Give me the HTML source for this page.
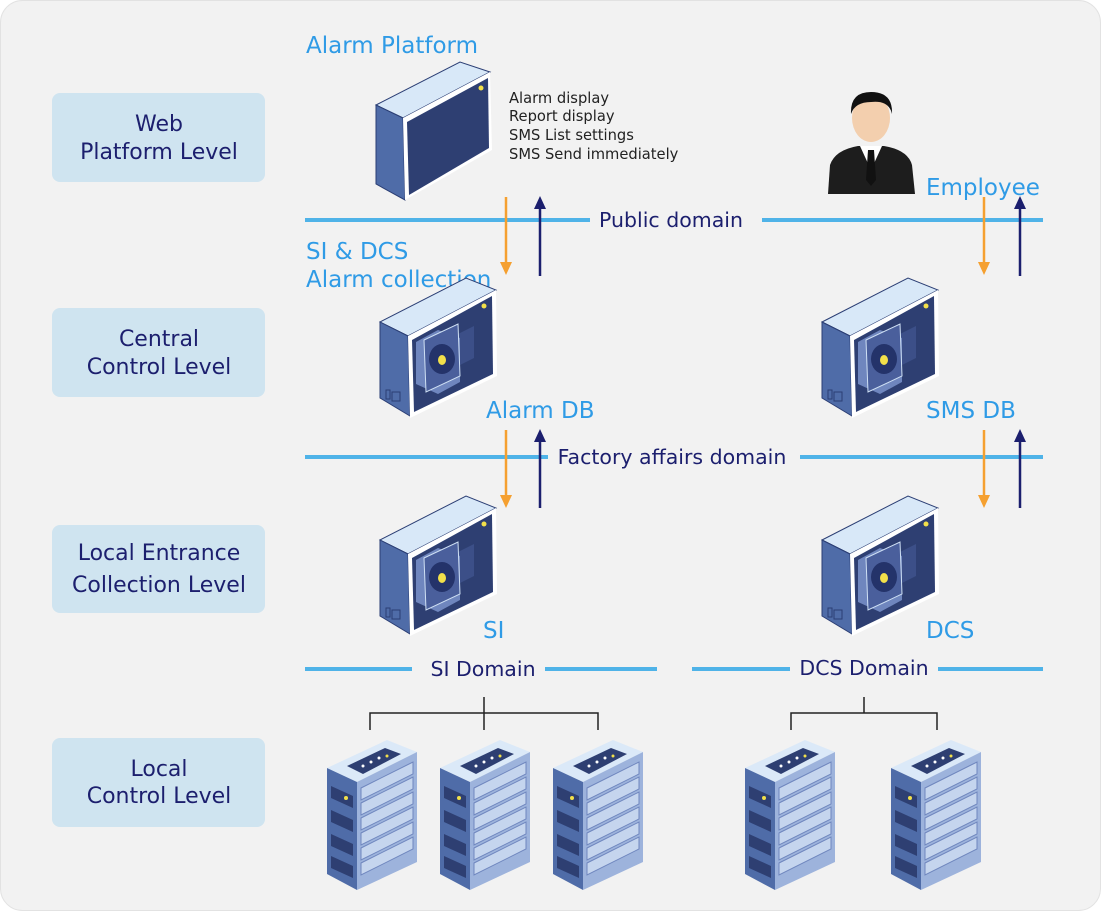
<!DOCTYPE html>
<html><head><meta charset="utf-8"><style>
html,body{margin:0;padding:0;background:#fff;}
svg{display:block;font-family:"DejaVu Sans","Liberation Sans",sans-serif;}
</style></head><body>
<svg width="1101" height="911" viewBox="0 0 1101 911" xmlns="http://www.w3.org/2000/svg">
<defs>
<symbol id="cam" viewBox="0 0 120 146" width="120" height="146">
  <polygon points="2,50 88,6 118,18 30,64" fill="#d8e8f8" stroke="#2b3e74" stroke-width="1"/>
  <polygon points="2,50 30,64 32,144 2,126" fill="#4f6ca8" stroke="#2b3e74" stroke-width="1"/>
  <polygon points="30,64 118,18 119,104 32,146" fill="#ffffff"/>
  <polygon points="34,68 114,24 115,102 36,140" fill="#2e3f72"/>
  <circle cx="106" cy="34" r="2.5" fill="#f2e04a"/>
  <polygon points="76,64 96,54 96,86 76,96" fill="#3c4f88"/>
  <polygon points="38,70 60,58 82,66 82,110 60,122 38,112" fill="#6f86be"/>
  <polygon points="46,68 80,52 82,104 48,120" fill="#4a5f9c" stroke="#cfe0f4" stroke-width="1"/>
  <ellipse cx="64" cy="87" rx="13" ry="15" fill="#24336a"/>
  <ellipse cx="64" cy="88" rx="4" ry="5" fill="#f2e04a"/>
  <rect x="8" y="118" width="4" height="9" fill="none" stroke="#2b3e74"/>
  <rect x="14" y="120" width="8" height="9" fill="none" stroke="#2b3e74"/>
</symbol>
<symbol id="rack" viewBox="0 0 90 152" width="90" height="152">
  <polygon points="0,30 60,2 90,14 30,44" fill="#dbe9f8"/>
  <polygon points="20,28 58,10 74,16 36,36" fill="#2e3f72"/>
  <circle cx="36" cy="28" r="1.5" fill="#fff"/><circle cx="44" cy="24" r="1.5" fill="#fff"/><circle cx="52" cy="20" r="1.5" fill="#fff"/><circle cx="60" cy="18" r="1.5" fill="#f2e04a"/>
  <polygon points="0,30 30,44 30,152 0,136" fill="#4f6ca8"/>
  <polygon points="30,44 90,14 90,124 30,152" fill="#9db3dc"/>
  <g fill="#2e3f72">
   <polygon points="4,48 26,58 26,70 4,60"/><polygon points="4,72 26,82 26,94 4,84"/>
   <polygon points="4,96 26,106 26,118 4,108"/><polygon points="4,118 26,128 26,140 4,130"/>
  </g>
  <g fill="#c5d5ee" stroke="#6f86be" stroke-width="1">
   <polygon points="34,50 86,24 86,36 34,62"/><polygon points="34,65 86,39 86,51 34,77"/>
   <polygon points="34,80 86,54 86,66 34,92"/><polygon points="34,95 86,69 86,81 34,107"/>
   <polygon points="34,110 86,84 86,96 34,122"/><polygon points="34,125 86,99 86,111 34,137"/>
  </g>
  <circle cx="19" cy="60" r="2" fill="#f2e04a"/>
</symbol>
</defs>
<rect x="0.5" y="0.5" width="1100" height="910" rx="22" fill="#f2f2f2" stroke="#e2e2e2"/>
<g fill="#cfe4f0">
<rect x="52" y="93" width="213" height="89" rx="8"/>
<rect x="52" y="308" width="213" height="89" rx="8"/>
<rect x="52" y="525" width="213" height="88" rx="8"/>
<rect x="52" y="738" width="213" height="89" rx="8"/>
</g>
<g fill="#1c1f6e" font-size="22" text-anchor="middle">
<text x="159" y="131">Web</text><text x="159" y="159">Platform Level</text>
<text x="159" y="346">Central</text><text x="159" y="374">Control Level</text>
<text x="159" y="560">Local Entrance</text><text x="159" y="592">Collection Level</text>
<text x="159" y="776">Local</text><text x="159" y="803">Control Level</text>
</g>
<g stroke="#4fb3e8" stroke-width="4">
<line x1="305" y1="220" x2="590" y2="220"/><line x1="762" y1="220" x2="1043" y2="220"/>
<line x1="305" y1="457" x2="548" y2="457"/><line x1="800" y1="457" x2="1043" y2="457"/>
<line x1="305" y1="669" x2="412" y2="669"/><line x1="545" y1="669" x2="657" y2="669"/>
<line x1="692" y1="669" x2="790" y2="669"/><line x1="938" y1="669" x2="1043" y2="669"/>
</g>
<g fill="#1c1f6e" font-size="20.5" text-anchor="middle">
<text x="671" y="227">Public domain</text>
<text x="672" y="464">Factory affairs domain</text>
<text x="483" y="676">SI Domain</text>
<text x="864" y="675">DCS Domain</text>
</g>
<g fill="#2f9be6" font-size="23">
<text x="306" y="53">Alarm Platform</text>
<text x="306" y="259">SI &amp; DCS</text>
<text x="306" y="287">Alarm collection</text>
<text x="486" y="418">Alarm DB</text>
<text x="926" y="418">SMS DB</text>
<text x="926" y="195">Employee</text>
<text x="483" y="638">SI</text>
<text x="926" y="638">DCS</text>
</g>
<g fill="#222" font-size="14.7">
<text x="509" y="103">Alarm display</text>
<text x="509" y="121">Report display</text>
<text x="509" y="140">SMS List settings</text>
<text x="509" y="159">SMS Send immediately</text>
</g>
<g stroke-width="2.5">
<g stroke="#f5a030"><line x1="506" y1="197" x2="506" y2="265"/><line x1="984" y1="197" x2="984" y2="265"/><line x1="506" y1="430" x2="506" y2="498"/><line x1="984" y1="430" x2="984" y2="498"/></g>
<g stroke="#1c1f6e"><line x1="540" y1="276" x2="540" y2="205"/><line x1="1020" y1="276" x2="1020" y2="205"/><line x1="540" y1="508" x2="540" y2="438"/><line x1="1020" y1="508" x2="1020" y2="438"/></g>
</g>
<g fill="#f5a030"><polygon points="500,262 512,262 506,275"/><polygon points="978,262 990,262 984,275"/><polygon points="500,495 512,495 506,508"/><polygon points="978,495 990,495 984,508"/></g>
<g fill="#1c1f6e"><polygon points="534,209 546,209 540,196"/><polygon points="1014,209 1026,209 1020,196"/><polygon points="534,442 546,442 540,429"/><polygon points="1014,442 1026,442 1020,429"/></g>
<polygon points="376,105 460,62 490,72 403,118" fill="#d8e8f8" stroke="#2b3e74"/>
<polygon points="376,105 403,118 405,200 376,184" fill="#4f6ca8" stroke="#2b3e74"/>
<polygon points="403,118 490,72 492,150 405,200" fill="#fff"/>
<polygon points="407,122 488,78 489,148 409,195" fill="#2e3f72"/>
<circle cx="481" cy="88" r="2.5" fill="#f2e04a"/>
<use href="#cam" x="378" y="272"/>
<use href="#cam" x="820" y="272"/>
<use href="#cam" x="378" y="490"/>
<use href="#cam" x="820" y="490"/>
<path d="M828,194 L830,165 Q835,150 858,146 L884,146 Q908,150 912,165 L915,194 Z" fill="#1d1d1d"/>
<polygon points="860,146 871,170 882,146" fill="#fff"/>
<polygon points="868,150 874,150 876,180 871,186 866,180" fill="#111"/>
<ellipse cx="871" cy="118" rx="19" ry="24" fill="#f3cfae"/>
<path d="M851,114 Q850,92 871,92 Q893,92 892,114 Q889,100 871,102 Q855,102 851,114Z" fill="#111"/>
<g stroke="#222" stroke-width="1.5" fill="none">
<path d="M484,697 V713 M370,730 V713 H598 V730 M484,713 V730"/>
<path d="M864,697 V713 M791,730 V713 H937 V730"/>
</g>
<use href="#rack" x="327" y="738"/>
<use href="#rack" x="440" y="738"/>
<use href="#rack" x="553" y="738"/>
<use href="#rack" x="745" y="738"/>
<use href="#rack" x="891" y="738"/>
</svg>
</body></html>
